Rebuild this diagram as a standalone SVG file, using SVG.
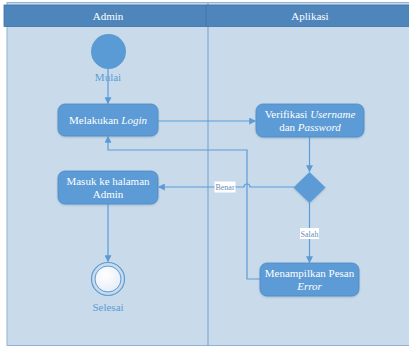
<svg xmlns="http://www.w3.org/2000/svg" width="409" height="347" viewBox="0 0 409 347">
  <defs>
    <style>
      .lbl { font-family: "Liberation Serif", "Times New Roman", serif; font-size: 11px; fill: #ffffff; text-anchor: middle; }
      .cap { font-family: "Liberation Serif", "Times New Roman", serif; font-size: 11px; fill: #5B9BD5; text-anchor: middle; }
      .small { font-family: "Liberation Serif", "Times New Roman", serif; font-size: 8px; fill: #6A8EB8; text-anchor: middle; }
      .act { fill: #5B9BD5; stroke: #4F8CC6; stroke-width: 0.8; filter: url(#sh); }
      .flow { fill: none; stroke: #5B9BD5; stroke-width: 1.2; }
    </style>
    <filter id="sh" x="-10%" y="-20%" width="120%" height="150%">
      <feDropShadow dx="0" dy="1" stdDeviation="1" flood-color="#6f8fb0" flood-opacity="0.45"/>
    </filter>
    <radialGradient id="endFill" cx="0.4" cy="0.35" r="0.7">
      <stop offset="0" stop-color="#ffffff"/>
      <stop offset="1" stop-color="#e6ecf6"/>
    </radialGradient>
    <marker id="arr" viewBox="0 0 10 10" refX="9" refY="5" markerWidth="7" markerHeight="7" orient="auto" markerUnits="userSpaceOnUse">
      <path d="M0,0 L10,5 L0,10 z" fill="#5B9BD5"/>
    </marker>
  </defs>

  <!-- pool -->
  <g id="pool">
    <rect x="7" y="2.5" width="403" height="343" fill="#C9DBEA" stroke="#8FB3D6" stroke-width="1"/>
    <line x1="208" y1="2.5" x2="208" y2="345.5" stroke="#7FA9D2" stroke-width="1.2"/>
    <rect x="4" y="5" width="406" height="21.5" fill="#4E86BC" stroke="#3F72A6" stroke-width="0.8"/>
    <line x1="206" y1="5" x2="206" y2="26.5" stroke="#3F72A6" stroke-width="0.8"/>
    <text class="lbl" x="108" y="19.5">Admin</text>
    <text class="lbl" x="310" y="19.5">Aplikasi</text>
  </g>

  <!-- connectors -->
  <g id="connectors">
    <line class="flow" x1="108" y1="69" x2="108" y2="103.5" marker-end="url(#arr)"/>
    <line class="flow" x1="158" y1="121" x2="255.5" y2="121" marker-end="url(#arr)"/>
    <line class="flow" x1="309.5" y1="137" x2="309.5" y2="171.5" marker-end="url(#arr)"/>
    <path class="flow" d="M294,187 L250,187 A3,3 0 0 0 244,187 L158.5,187" marker-end="url(#arr)"/>
    <line class="flow" x1="309.5" y1="203" x2="309.5" y2="262.5" marker-end="url(#arr)"/>
    <path class="flow" d="M260,279 L247,279 L247,150 L108,150 L108,136.5" marker-end="url(#arr)"/>
    <line class="flow" x1="108" y1="204" x2="108" y2="261.5" marker-end="url(#arr)"/>
    <rect x="214.5" y="181.5" width="21" height="11" fill="#ffffff"/>
    <text class="small" x="225" y="190">Benar</text>
    <rect x="300" y="228" width="19" height="11" fill="#ffffff"/>
    <text class="small" x="309.5" y="236.5">Salah</text>
  </g>

  <!-- start -->
  <g id="start">
    <circle cx="108.5" cy="51.5" r="17.5" fill="#5B9BD5"/>
    <text class="cap" x="108" y="81">Mulai</text>
  </g>

  <g id="login">
    <rect class="act" x="58" y="104" width="100" height="32" rx="7"/>
    <text class="lbl" x="108" y="124">Melakukan <tspan font-style="italic">Login</tspan></text>
  </g>

  <g id="verifikasi">
    <rect class="act" x="256" y="104" width="108" height="33" rx="7"/>
    <text class="lbl" x="310" y="117.5">Verifikasi <tspan font-style="italic">Username</tspan></text>
    <text class="lbl" x="310" y="131">dan <tspan font-style="italic">Password</tspan></text>
  </g>

  <g id="decision">
    <path d="M309.5,172 L325.5,187.5 L309.5,203 L293.5,187.5 Z" fill="#5B9BD5" filter="url(#sh)"/>
  </g>

  <g id="masuk">
    <rect class="act" x="58" y="171" width="100" height="33" rx="7"/>
    <text class="lbl" x="108" y="185">Masuk ke halaman</text>
    <text class="lbl" x="108" y="198">Admin</text>
  </g>

  <g id="error">
    <rect class="act" x="260" y="263" width="99" height="33" rx="7"/>
    <text class="lbl" x="309.5" y="276.5">Menampilkan Pesan</text>
    <text class="lbl" x="309.5" y="290" font-style="italic">Error</text>
  </g>

  <!-- end -->
  <g id="end">
    <circle cx="108" cy="279" r="16.5" fill="none" stroke="#5B9BD5" stroke-width="1.2"/>
    <circle cx="108" cy="279" r="13" fill="url(#endFill)" stroke="#5B9BD5" stroke-width="1"/>
    <text class="cap" x="108" y="311">Selesai</text>
  </g>
</svg>
